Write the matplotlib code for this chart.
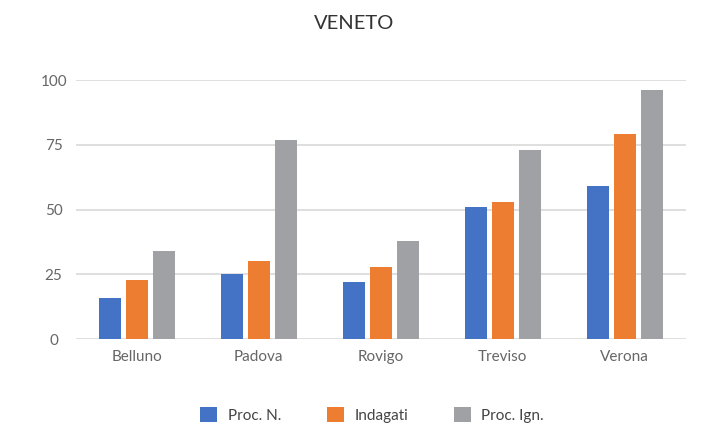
import matplotlib.pyplot as plt
import numpy as np

provinces = ["Belluno", "Padova", "Rovigo", "Treviso", "Verona"]
proc_n = [16, 25, 22, 51, 59]
indagati = [23, 30, 28, 53, 79]
proc_ign = [34, 77, 38, 73, 96]
series_names = ["Proc. N.", "Indagati", "Proc. Ign."]
colors = ["#4472C4", "#ED7D31", "#A0A1A5"]
y_ticks = [0, 25, 50, 75, 100]


def main():
    plt.rcParams["font.family"] = ["Lato", "DejaVu Sans"]
    fig = plt.figure(figsize=(7.02, 4.26), dpi=100)
    ax = fig.add_axes([0.108, 0.204, 0.869, 0.608])

    x = np.arange(len(provinces))
    width = 0.18
    step = 0.22
    for i, (vals, name, col) in enumerate(zip([proc_n, indagati, proc_ign], series_names, colors)):
        ax.bar(x + (i - 1) * step, vals, width=width, color=col, label=name, zorder=3)

    ax.set_xlim(-0.5, len(provinces) - 0.5)
    ax.set_ylim(0, 100)
    ax.set_yticks(y_ticks)
    ax.set_xticks(x)
    ax.set_xticklabels(provinces)
    ax.grid(axis="y", color="#d9d9d9", linewidth=1.2, zorder=0)
    ax.set_axisbelow(True)
    for s in ax.spines.values():
        s.set_visible(False)
    ax.tick_params(axis="both", length=0, colors="#666666", labelsize=11)
    ax.tick_params(axis="y", pad=16)
    ax.tick_params(axis="x", pad=8)
    for lbl in ax.get_yticklabels():
        lbl.set_horizontalalignment("center")

    fig.text(0.505, 0.945, "VENETO", ha="center", va="center", fontsize=14.5, color="#333333")

    fig.legend(loc="center", bbox_to_anchor=(0.53, 0.026), ncol=3, frameon=False,
               fontsize=11, handlelength=1.1, handleheight=1.1, columnspacing=3.0,
               handletextpad=0.7, labelcolor="#444444")

    fig.savefig("out.png", dpi=100, facecolor="white")


if __name__ == "__main__":
    main()
